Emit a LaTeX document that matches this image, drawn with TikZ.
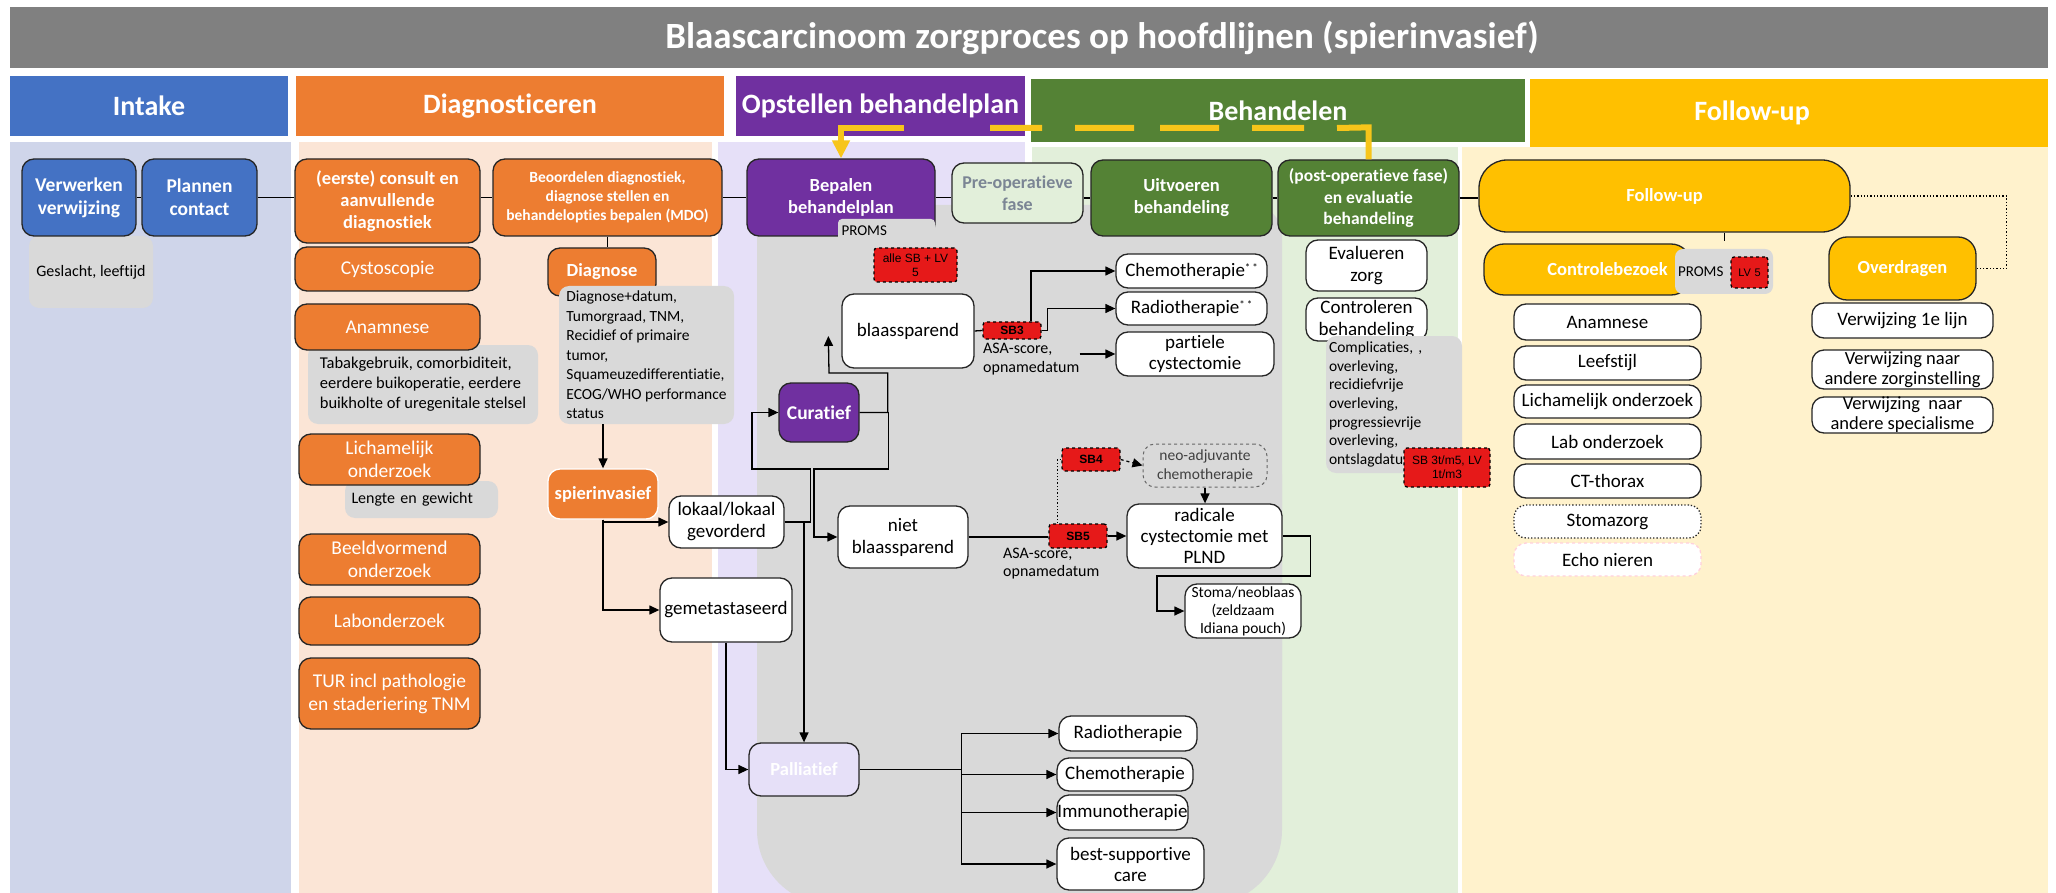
\documentclass[tikz,border=0pt]{standalone}
\usepackage{fontspec}
\setmainfont[Ligatures=NoCommon]{Carlito}
\newfontfamily\arialf{Liberation Sans}
\usetikzlibrary{arrows.meta,calc}
\definecolor{titleC}{HTML}{808080}
\definecolor{blueC}{HTML}{4472C4}
\definecolor{orC}{HTML}{ED7D31}
\definecolor{purC}{HTML}{7030A0}
\definecolor{grnC}{HTML}{548235}
\definecolor{goldC}{HTML}{FFC000}
\definecolor{laneA}{HTML}{CFD5EA}
\definecolor{laneB}{HTML}{FBE5D6}
\definecolor{laneC}{HTML}{E6E0F8}
\definecolor{laneD}{HTML}{E2EFDA}
\definecolor{laneE}{HTML}{FFF2CC}
\definecolor{grayC}{HTML}{D9D9D9}
\definecolor{redC}{HTML}{E61919}
\definecolor{lineC}{HTML}{262626}
\definecolor{preT}{HTML}{7B8594}
\definecolor{yelC}{HTML}{F7C51A}
\definecolor{pinkC}{HTML}{FFD0DC}
\newcommand\fsz[2]{\fontsize{#1}{#2}\selectfont}
\newcommand\bx[7]{\node[inner sep=0pt, minimum width={(#4)-(#2)}, minimum height={(#5)-(#3)}, #6] (#1) at ({((#2)+(#4))/2},{((#3)+(#5))/2}) {#7};}
\tikzset{
  boxbase/.style={draw=lineC, line width=1.3pt, rounded corners=12pt, align=center},
  whitebox/.style={boxbase, fill=white, text=black, font=\fsz{19}{22}},
  solidbox/.style={boxbase, fill=#1, text=white, font=\bfseries\fsz{18.5}{22}},
  plainor/.style={boxbase, fill=orC, text=white, font=\fsz{19.5}{23}},
  graynote/.style={fill=grayC, rounded corners=10pt, align=left, text=black, font=\fsz{16}{20}},
  redtag/.style={fill=redC, draw=black, dashed, line width=1.3pt, rounded corners=3pt, align=center, text=black, font=\arialf\fsz{12}{14}},
  boldtag/.style={redtag, font=\arialf\bfseries\fsz{12}{14}},
  hdrbox/.style={fill=#1, text=white, font=\bfseries\fsz{28}{32}},
  conline/.style={draw=black, line width=1.3pt},
  conarrow/.style={conline, -{Triangle[length=10pt,width=9pt]}},
  yellowbar/.style={draw=yelC, line width=6pt},
  yellowend/.style={draw=yelC, line width=6pt, -{Triangle[length=18pt,width=17pt]}},
}
\begin{document}
\begin{tikzpicture}[x=1pt,y=-1pt]
\fill[white] (0,0) rectangle (2056,893);
\useasboundingbox (0,0) rectangle (2056,893);
% lanes
\fill[laneA] (10,142) rectangle (291,893);
\fill[laneB] (299,142) rectangle (712,893);
\fill[laneC] (718,142) rectangle (1025,893);
\fill[laneD] (1032,147) rectangle (1458,893);
\fill[laneE] (1462,147) rectangle (2048,893);
\fill[grayC, rounded corners=30pt] (757,205) rectangle (1282,700);
\fill[grayC, rounded corners=75pt] (757,400) rectangle (1282,905);
% title and headers
\bx{title}{10}{7}{2048}{68}{fill=titleC, text=white, font=\bfseries\fsz{37}{42}}{\hspace*{146pt}Blaascarcinoom zorgproces op hoofdlijnen (spierinvasief)}
\bx{hIntake}{10}{76}{288}{136}{hdrbox=blueC}{Intake}
\bx{hDiag}{296}{76}{724}{136}{hdrbox=orC}{Diagnosticeren}
\bx{hOpst}{736}{76}{1025}{136}{hdrbox=purC}{Opstellen behandelplan}
\bx{hBeh}{1031}{79}{1525}{142}{hdrbox=grnC}{Behandelen}
\bx{hFU}{1530}{79}{2048}{147}{hdrbox=goldC}{Follow-up\hspace*{74pt}}
% intake
\bx{gesl}{29}{236}{153}{308}{graynote}{Geslacht, leeftijd}
\bx{verw}{22}{159}{136}{236}{solidbox=blueC, font=\bfseries\fsz{19.5}{23}}{Verwerken\\verwijzing}
\bx{plan}{142}{159}{257}{236}{solidbox=blueC, font=\bfseries\fsz{19.5}{23}}{Plannen\\contact}
% diagnosticeren
\bx{cons}{295}{159}{480}{243}{solidbox=orC}{(eerste) consult en\\aanvullende\\diagnostiek}
\bx{beoord}{493}{159}{722}{236}{solidbox=orC, font=\bfseries\fsz{15.5}{19}}{Beoordelen diagnostiek,\\diagnose stellen en\\behandelopties bepalen (MDO)}
\bx{cysto}{295}{247}{480}{291}{plainor}{Cystoscopie}
\bx{tabak}{308}{345}{538}{424}{graynote, font=\fsz{16.5}{20}}{Tabakgebruik, comorbiditeit,\\eerdere buikoperatie, eerdere\\buikholte of uregenitale stelsel}
\bx{anam}{295}{304}{480}{350}{plainor}{Anamnese}
\bx{lengte}{345}{481}{498}{518}{graynote, text width=140pt}{Lengte en gewicht}
\bx{lich}{299}{434}{480}{485}{plainor}{Lichamelijk\\onderzoek}
\bx{beeld}{299}{534}{480}{585}{plainor}{Beeldvormend\\onderzoek}
\bx{labo}{299}{597}{480}{645}{plainor}{Labonderzoek}
\bx{tur}{299}{658}{480}{729}{plainor}{TUR incl pathologie\\en staderiering TNM}
\bx{diag}{548}{248}{656}{296}{solidbox=orC}{Diagnose}
\bx{diaggray}{559}{286}{734}{424}{graynote, font=\fsz{15.5}{19.5}}{Diagnose+datum,\\Tumorgraad, TNM,\\Recidief of primaire\\tumor,\\Squameuzedifferentiatie,\\ECOG/WHO performance\\status}
\bx{spier}{548}{469}{658}{519}{solidbox=orC, draw=white}{spierinvasief}
\bx{lokaal}{669}{496}{784}{548}{whitebox}{lokaal/lokaal\\gevorderd}
\bx{gemet}{660}{578}{792}{642}{whitebox}{gemetastaseerd}
% opstellen behandelplan
\bx{bepalen}{747}{159}{935}{236}{solidbox=purC}{Bepalen\\behandelplan}
\bx{proms}{838}{219}{935}{242}{graynote, rounded corners=4pt, font=\fsz{15}{18}, text width=90pt}{PROMS}
\bx{alle}{874}{248}{957}{282}{redtag}{alle SB + LV\\5}
\bx{cur}{779}{383}{859}{442}{solidbox=purC, font=\bfseries\fsz{19.5}{23}}{Curatief}
\bx{pall}{749}{743}{859}{796}{solidbox=laneC}{Palliatief}
\bx{blaas}{842}{294}{974}{368}{whitebox}{blaassparend}
\bx{niet}{838}{506}{968}{568}{whitebox}{niet\\blaassparend}
\bx{preop}{952}{163}{1083}{223}{boxbase, fill=laneD, text=preT, font=\bfseries\fsz{18}{22}}{Pre-operatieve\\fase}
% behandelen
\bx{uitv}{1091}{160}{1272}{236}{solidbox=grnC}{Uitvoeren\\behandeling}
\bx{post}{1278}{160}{1459}{236}{solidbox=grnC, font=\bfseries\fsz{17.5}{21.5}}{(post-operatieve fase)\\en evaluatie\\behandeling}
\bx{chemo}{1116}{254}{1267}{288}{whitebox}{Chemotherapie\raisebox{5pt}{\fsz{11}{11}*\,*}}
\bx{radio}{1116}{292}{1267}{325}{whitebox}{Radiotherapie\raisebox{5pt}{\fsz{11}{11}*\,*}}
\bx{part}{1116}{332}{1274}{376}{whitebox, font=\fsz{19}{21}}{partiele\\cystectomie}
\bx{sb3}{983}{322}{1041}{339}{boldtag}{SB3}
\node[anchor=north west, inner sep=0pt, align=left, font=\fsz{16}{19}] (asa1) at (983,343) {ASA-score,\\opnamedatum};
\bx{sb4}{1062}{448}{1120}{471}{boldtag}{SB4}
\bx{neo}{1143}{444}{1267}{487}{boxbase, dashed, draw=black!60, line width=1pt, text=black!75, font=\fsz{15.5}{19}}{neo-adjuvante\\chemotherapie}
\bx{rad}{1127}{504}{1282}{568}{whitebox, font=\fsz{19}{21}}{radicale\\cystectomie met\\PLND}
\bx{sb5}{1049}{524}{1107}{548}{boldtag}{SB5}
\node[anchor=north west, inner sep=0pt, align=left, font=\fsz{16}{18}] (asa2) at (1003,548) {ASA-score,\\opnamedatum};
\bx{stoma}{1185}{584}{1301}{638}{whitebox, font=\fsz{15.5}{18}}{Stoma/neoblaas\\(zeldzaam\\Idiana pouch)}
\bx{evalz}{1306}{240}{1427}{291}{whitebox}{Evalueren\\zorg}
\bx{contr}{1306}{298}{1427}{341}{whitebox}{Controleren\\behandeling}
\bx{compl}{1326}{336}{1462}{473}{graynote, font=\fsz{15.5}{18.6}, text width=130pt}{Complicaties, ,\\overleving,\\recidiefvrije\\overleving,\\progressievrije\\overleving,\\ontslagdatum}
\bx{sbred}{1404}{448}{1490}{487}{redtag}{SB 3t/m5, LV\\1t/m3}
% palliatief targets
\bx{pradio}{1059}{716}{1197}{751}{whitebox}{Radiotherapie}
\bx{pchemo}{1057}{758}{1193}{791}{whitebox}{Chemotherapie}
\bx{pimmu}{1057}{795}{1188}{830}{whitebox}{Immunotherapie}
\bx{pbsc}{1057}{838}{1204}{890}{whitebox, font=\fsz{19}{21}}{best-supportive\\care}
% follow-up
\bx{fu}{1479}{160}{1850}{232}{solidbox=goldC, rounded corners=28pt}{Follow-up}
\bx{ctrl}{1484}{244}{1691}{295}{solidbox=goldC, rounded corners=20pt}{\hspace*{40pt}Controlebezoek}
\bx{pr2}{1675}{249}{1773}{294}{graynote, rounded corners=8pt, font=\fsz{15}{18}, text width=92pt}{PROMS}
\bx{lv5}{1731}{257}{1768}{288}{redtag, font=\arialf\fsz{11}{13}}{LV\,\,5}
\bx{overd}{1829}{237}{1976}{300}{solidbox=goldC, rounded corners=18pt}{Overdragen}
\bx{fa}{1514}{304}{1701}{340}{whitebox}{Anamnese}
\bx{fl}{1514}{346}{1701}{380}{whitebox}{Leefstijl}
\bx{flich}{1514}{385}{1701}{418}{whitebox}{Lichamelijk onderzoek}
\bx{flab}{1514}{424}{1701}{459}{whitebox}{Lab onderzoek}
\bx{fct}{1514}{464}{1701}{498}{whitebox}{CT-thorax}
\bx{fstoma}{1514}{505}{1701}{538}{whitebox, dotted}{Stomazorg}
\bx{fecho}{1514}{543}{1701}{576}{whitebox, dashed, draw=pinkC}{Echo nieren}
\bx{v1}{1812}{303}{1993}{338}{whitebox}{Verwijzing 1e lijn}
\bx{v2}{1812}{350}{1993}{389}{whitebox, font=\fsz{18.5}{20}}{Verwijzing naar\\andere zorginstelling}
\bx{v3}{1812}{397}{1993}{433}{whitebox, font=\fsz{18.5}{20}}{Verwijzing\ \ naar\\andere specialisme}
% connectors
\draw[conline] (verw.east) -- (plan.west);
\draw[conline] (plan.east) -- (plan.east -| cons.west);
\draw[conline] (cons.east |- beoord.west) -- (beoord.west);
\draw[conline] (beoord.east) -- (beoord.east -| bepalen.west);
\draw[conline] (bepalen.east) -- (bepalen.east -| preop.west);
\draw[conline] (preop.east |- uitv.west) -- (uitv.west);
\draw[conline] (uitv.east) -- (post.west);
\draw[conline] (post.east) -- (post.east -| fu.west);
\draw[conline] (beoord.south) -- (beoord.south |- diag.north);
\draw[conarrow] (diaggray.south -| spier.north) -- (spier.north);
\draw[conarrow] (spier.south) |- (lokaal.west);
\draw[conarrow] (spier.south) |- (gemet.west);
\draw[conarrow] (lokaal.east) -| (pall.north);
\draw[conarrow] (lokaal.east) -- ++(26,0) |- (752,469) |- (cur.west);
\draw[conarrow] (cur.east) -- ++(29,0) |- (814,469) |- (niet.west);
\draw[conarrow] (cur.east) -- ++(28,0) |- (829,373) -- ([xshift=-13pt,yshift=-5pt]blaas.west);
\draw[conarrow] (gemet.south) |- (pall.west);
\coordinate (pj) at ($(pall.east)+(102,0)$);
\draw[conline] (pall.east) -- (pj);
\draw[conarrow] (pj) |- (pradio.west);
\draw[conarrow] (pj) |- (pchemo.west);
\draw[conarrow] (pj) |- (pimmu.west);
\draw[conarrow] (pj) |- (pbsc.west);
\draw[conline] (blaas.east) -- (sb3.west);
\draw[conarrow] ([xshift=19pt]sb3.north) |- (chemo.west);
\draw[conarrow] (sb3.east) -- ++(6,0) |- (radio.west);
\draw[conarrow] (asa1.east |- part.west) -- (part.west);
\draw[conline] (niet.east) -- (niet.east -| sb5.west);
\draw[conarrow] (sb5.east) -- (sb5.east -| rad.west);
\draw[conline, dotted] ([xshift=9pt]sb5.north west) |- (sb4.west);
\draw[conarrow, dashed] (sb4.east) -- (neo.west);
\draw[conarrow] (neo.south) -- (neo.south |- rad.north);
\draw[conarrow] (rad.east) -- ++(28,0) |- (1157,576) |- (stoma.west);
\draw[conline, dotted] (fu.east) -- ++(156,0) |- (overd.east);
\draw[conline] ([xshift=60pt]fu.south) -- ++(0,8);
% yellow dashed feedback connector
\coordinate (ybreak) at (904,128);
\draw[yellowbar] (post.north) -- ++(0,-32) -- (1337,128) (1304,128) -- (1252,128) (1219,128) -- (1160,128) (1134,128) -- (1075,128) (1042,128) -- (990,128);
\draw[yellowend] (ybreak) -| (bepalen.north);
\end{tikzpicture}
\end{document}
